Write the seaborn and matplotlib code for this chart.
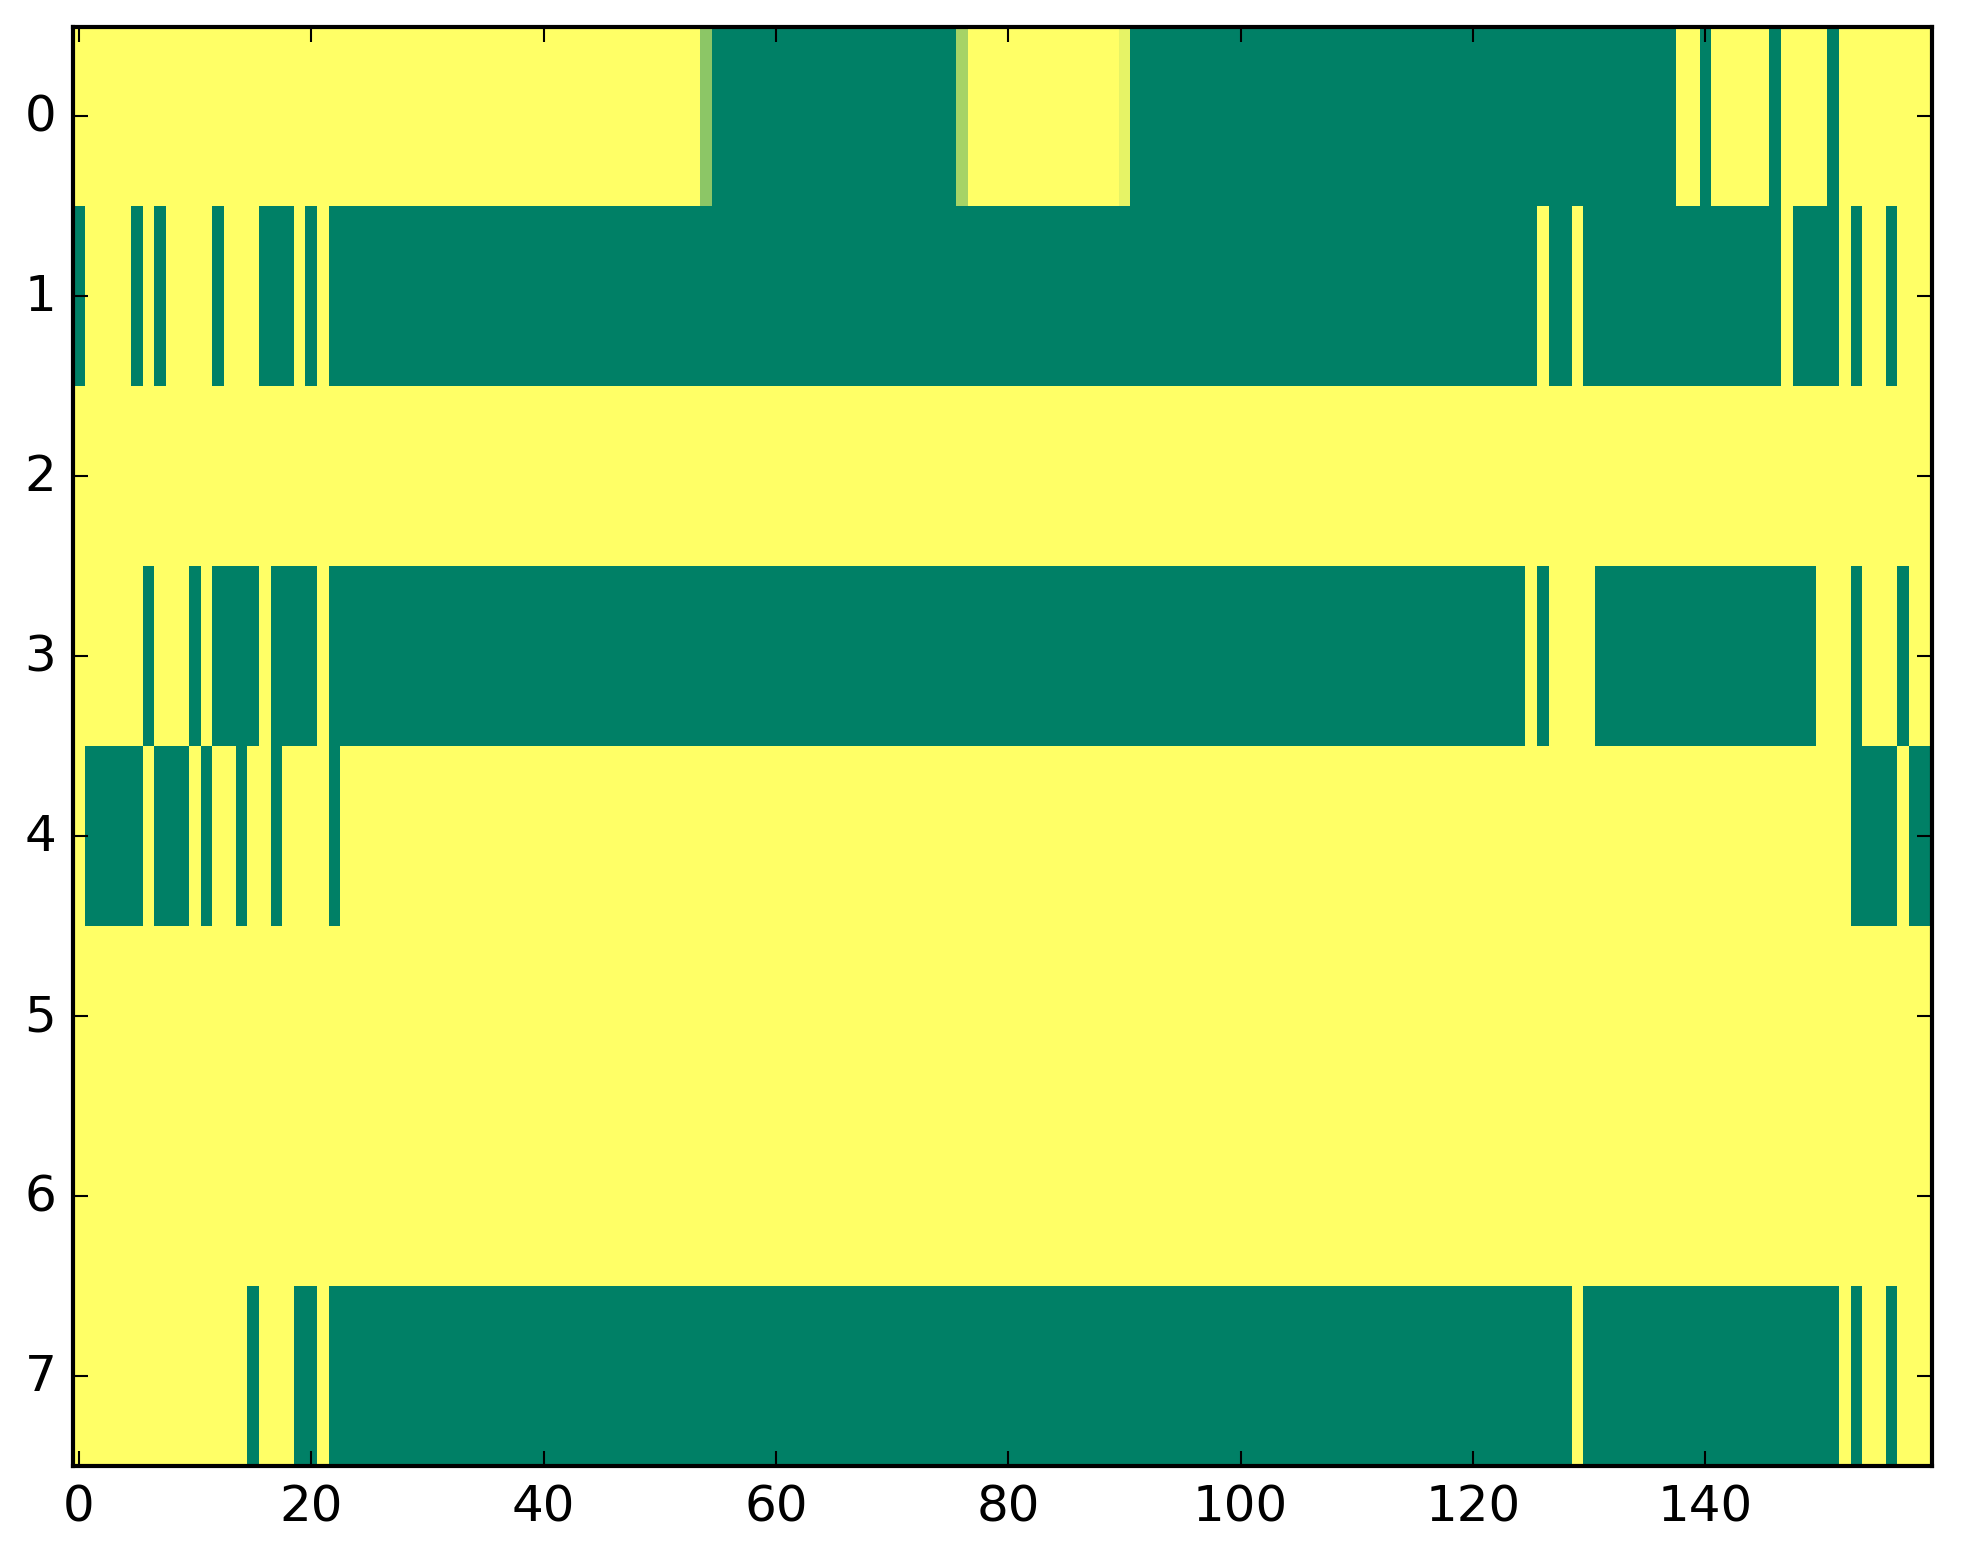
import numpy as np
import matplotlib
matplotlib.use("Agg")
import matplotlib.pyplot as plt
import seaborn as sns

# rows of the grid, written as runs of (value, number of columns); 160 columns per row
row0 = [(1, 54), (0.55, 1), (0, 21), (0.65, 1), (1, 13), (0.9, 1), (0, 47),
        (1, 2), (0, 1), (1, 5), (0, 1), (1, 4), (0, 1), (1, 8)]
row1 = [(0, 1), (1, 4), (0, 1), (1, 1), (0, 1), (1, 4), (0, 1), (1, 3), (0, 3),
        (1, 1), (0, 1), (1, 1), (0, 104), (1, 1), (0, 2), (1, 1), (0, 17), (1, 1),
        (0, 4), (1, 1), (0, 1), (1, 2), (0, 1), (1, 3)]
row2 = [(1, 160)]
row3 = [(1, 6), (0, 1), (1, 3), (0, 1), (1, 1), (0, 4), (1, 1), (0, 4), (1, 1),
        (0, 103), (1, 1), (0, 1), (1, 4), (0, 19), (1, 3), (0, 1), (1, 3), (0, 1),
        (1, 2)]
row4 = [(1, 1), (0, 5), (1, 1), (0, 3), (1, 1), (0, 1), (1, 2), (0, 1), (1, 2),
        (0, 1), (1, 4), (0, 1), (1, 130), (0, 4), (1, 1), (0, 2)]
row5 = [(1, 160)]
row6 = [(1, 160)]
row7 = [(1, 15), (0, 1), (1, 3), (0, 2), (1, 1), (0, 107), (1, 1), (0, 22),
        (1, 1), (0, 1), (1, 2), (0, 1), (1, 3)]

rows = [row0, row1, row2, row3, row4, row5, row6, row7]
x_ticks = [0, 20, 40, 60, 80, 100, 120, 140]
y_ticks = [0, 1, 2, 3, 4, 5, 6, 7]


def expand(runs):
    vals = [v for v, n in runs]
    counts = [n for v, n in runs]
    return np.repeat(vals, counts)


data = np.vstack([expand(r) for r in rows])

plt.rcParams['font.family'] = ['DejaVu Sans']
fig = plt.figure(figsize=(1963 / 300, 1564 / 300), dpi=300)
ax = fig.add_axes([73 / 1963, 1 - 1467 / 1564, (1932 - 73) / 1963, (1467 - 27.5) / 1564])

sns.heatmap(data, cmap="summer", vmin=0, vmax=1, cbar=False, ax=ax)

# back to a plain framed image look
for s in ax.spines.values():
    s.set_visible(True)
    s.set_linewidth(1.0)
    s.set_color("black")

ax.set_xticks([t + 0.5 for t in x_ticks])
ax.set_xticklabels([str(t) for t in x_ticks], rotation=0)
ax.set_yticks([t + 0.5 for t in y_ticks])
ax.set_yticklabels([str(t) for t in y_ticks], rotation=0)
ax.tick_params(direction="in", top=True, right=True, length=3.6, width=0.5,
               labelsize=12, pad=4, colors="black")

fig.savefig("out.png", dpi=300)
